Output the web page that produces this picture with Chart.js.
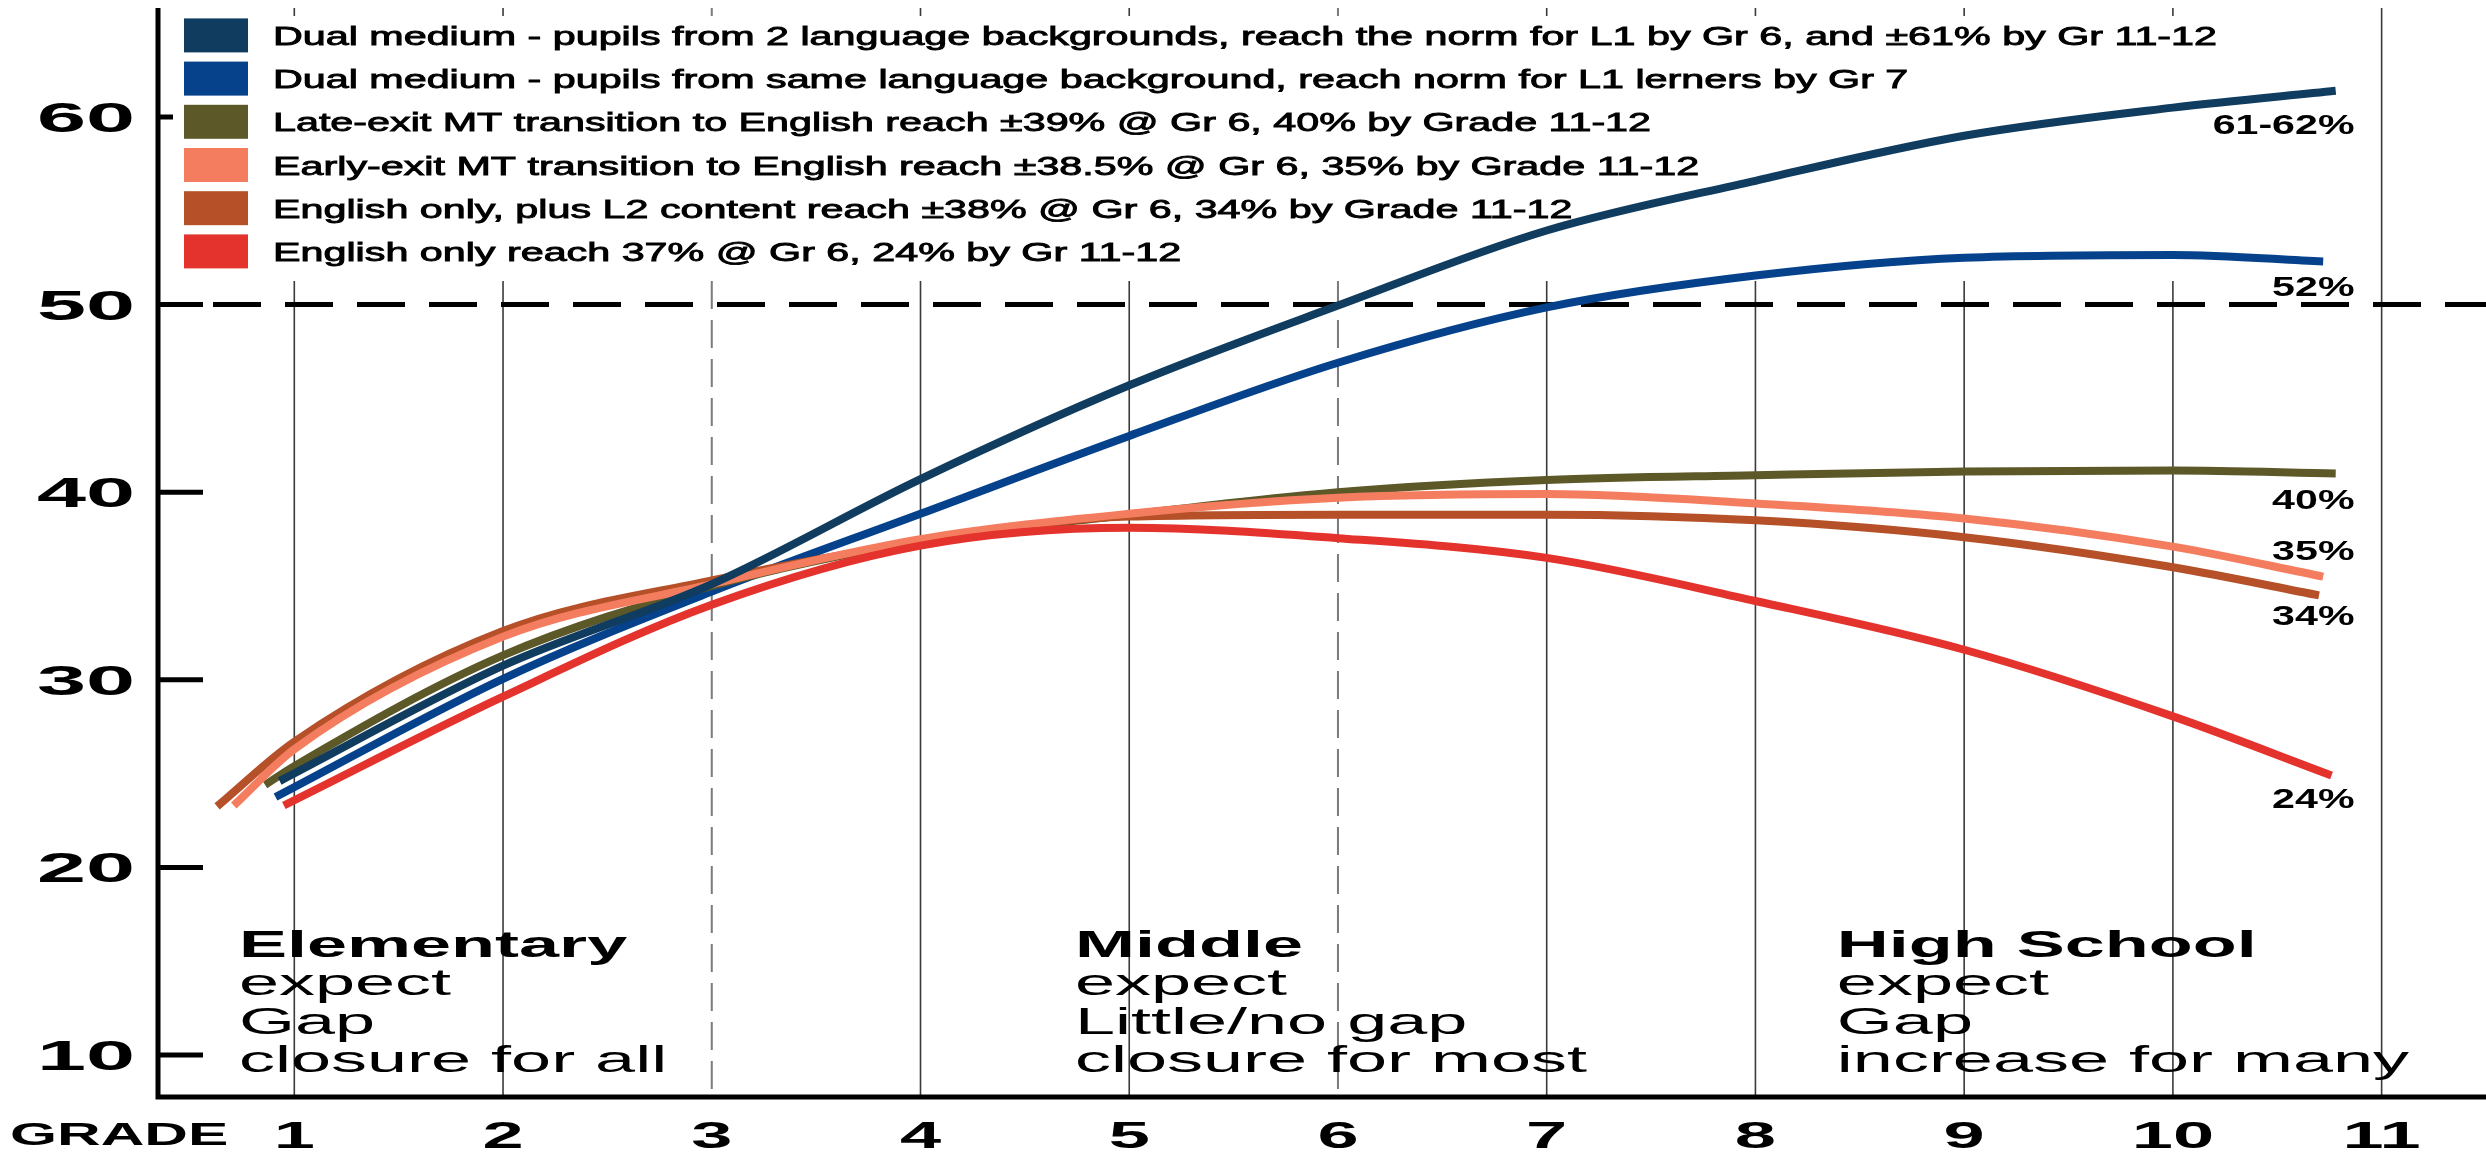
<!DOCTYPE html>
<html>
<head>
<meta charset="utf-8">
<script src="https://cdn.jsdelivr.net/npm/chart.js@4/dist/chart.umd.min.js"></script>
<style>
  body { margin: 0; background: #fff; }
  canvas { display: block; }
</style>
</head>
<body>
<canvas id="chart" width="2486" height="1153"></canvas>
<script>
// values
const grades = [1, 2, 3, 4, 5, 6, 7, 8, 9, 10, 11];
const yTicks = [10, 20, 30, 40, 50, 60];
const normLine = 50;

const seriesNames = [
  "Dual medium - pupils from 2 language backgrounds, reach the norm for L1 by Gr 6, and \u00b161% by Gr 11-12",
  "Dual medium - pupils from same language background, reach norm for L1 lerners by Gr 7",
  "Late-exit MT transition to English reach \u00b139% @ Gr 6, 40% by Grade 11-12",
  "Early-exit MT transition to English reach \u00b138.5% @ Gr 6, 35% by Grade 11-12",
  "English only, plus L2 content reach \u00b138% @ Gr 6, 34% by Grade 11-12",
  "English only reach 37% @ Gr 6, 24% by Gr 11-12"
];
const endLabels = ["61-62%", "52%", "40%", "35%", "34%", "24%"];

const dualTwoX = [0.93, 2, 3, 4, 5, 6, 7, 8, 9, 10, 10.78];
const dualTwoY = [24.6, 30.75, 35.1, 40.7, 45.7, 49.95, 53.95, 56.6, 59.0, 60.5, 61.4];
const dualSameX = [0.91, 2, 3, 4, 5, 6, 7, 8, 9, 10, 10.72];
const dualSameY = [23.75, 30.05, 34.7, 38.85, 43.0, 46.9, 49.85, 51.55, 52.5, 52.65, 52.3];
const lateExitX = [0.86, 1, 2, 3, 4, 5, 6, 7, 8, 9, 10, 10.78];
const lateExitY = [24.4, 25.4, 31.3, 35.0, 37.4, 38.8, 40.0, 40.65, 40.9, 41.1, 41.15, 41.0];
const earlyExitX = [0.71, 1, 2, 3, 4, 5, 6, 7, 8, 9, 10, 10.72];
const earlyExitY = [23.3, 26.3, 32.3, 35.1, 37.5, 38.85, 39.7, 39.9, 39.4, 38.6, 37.1, 35.5];
const engL2X = [0.63, 1, 2, 3, 4, 5, 6, 7, 8, 9, 10, 10.7];
const engL2Y = [23.25, 26.7, 32.6, 35.3, 37.35, 38.7, 38.8, 38.8, 38.5, 37.6, 36.0, 34.5];
const engOnlyX = [0.95, 2, 3, 4, 5, 6, 7, 8, 9, 10, 10.76];
const engOnlyY = [23.3, 29.1, 34.0, 37.15, 38.1, 37.55, 36.5, 34.2, 31.6, 28.05, 24.9];

const stageTitles = ["Elementary", "Middle", "High School"];
const stageLines = [
  ["expect", "Gap", "closure for all"],
  ["expect", "Little/no gap", "closure for most"],
  ["expect", "Gap", "increase for many"]
];

// styling
const colors = ["#0f3c5f", "#06428c", "#5c5828", "#f57d5f", "#b55028", "#e4322d"];
const drawOrder = [0, 5, 4, 2, 3, 1];
const labelDy = [33, 25, 26, -27, 20, 23];
const stageAt = [0.735, 4.74, 8.39];
const dashedGrades = [3, 6];
const FONT = '"Liberation Sans", Arial, sans-serif';

const seriesX = [dualTwoX, dualSameX, lateExitX, earlyExitX, engL2X, engOnlyX];
const seriesY = [dualTwoY, dualSameY, lateExitY, earlyExitY, engL2Y, engOnlyY];

function toPoints(xs, ys) {
  return xs.map((x, i) => ({ x: x, y: ys[i] }));
}

function stretchText(ctx, text, x, y, sx, align, heavy) {
  const w = ctx.measureText(text).width * sx;
  let x0 = x;
  if (align === "right") x0 = x - w;
  if (align === "center") x0 = x - w / 2;
  ctx.save();
  ctx.translate(x0, y);
  ctx.scale(sx, 1);
  ctx.textAlign = "left";
  ctx.fillText(text, 0, 0);
  if (heavy) {
    ctx.lineWidth = heavy;
    ctx.strokeStyle = ctx.fillStyle;
    ctx.strokeText(text, 0, 0);
  }
  ctx.restore();
}

const backdrop = {
  id: "backdrop",
  beforeDatasetsDraw(chart) {
    const ctx = chart.ctx;
    const area = chart.chartArea;
    const xs = chart.scales.x;
    const ys = chart.scales.y;
    ctx.save();

    // vertical grade lines
    grades.forEach(g => {
      const px = xs.getPixelForValue(g);
      ctx.beginPath();
      if (dashedGrades.includes(g)) {
        ctx.setLineDash([28, 11]);
        ctx.strokeStyle = "#7a7a7a";
        ctx.lineWidth = 2;
      } else {
        ctx.setLineDash([]);
        ctx.strokeStyle = "#3a3a3a";
        ctx.lineWidth = 1.6;
      }
      ctx.moveTo(px, area.top);
      ctx.lineTo(px, area.bottom);
      ctx.stroke();
    });
    ctx.setLineDash([]);

    // y ticks drawn inward
    ctx.strokeStyle = "#000";
    ctx.lineWidth = 5;
    yTicks.forEach(v => {
      const py = ys.getPixelForValue(v);
      ctx.beginPath();
      ctx.moveTo(area.left, py);
      ctx.lineTo(area.left + 45, py);
      ctx.stroke();
    });

    // norm line
    const ny = ys.getPixelForValue(normLine);
    ctx.setLineDash([48, 24]);
    ctx.lineDashOffset = 17;
    ctx.beginPath();
    ctx.moveTo(area.left, ny);
    ctx.lineTo(area.right, ny);
    ctx.stroke();
    ctx.setLineDash([]);

    // legend panel
    ctx.fillStyle = "#fff";
    ctx.fillRect(area.left + 15, 16, 2070, 265);

    // axes
    ctx.lineWidth = 5;
    ctx.beginPath();
    ctx.moveTo(area.left, area.top);
    ctx.lineTo(area.left, area.bottom);
    ctx.lineTo(area.right, area.bottom);
    ctx.stroke();
    ctx.restore();
  },
  afterDatasetsDraw(chart) {
    const ctx = chart.ctx;
    const area = chart.chartArea;
    const xs = chart.scales.x;
    const ys = chart.scales.y;
    ctx.save();
    ctx.fillStyle = "#000";
    ctx.textBaseline = "alphabetic";

    // legend
    ctx.font = "26px " + FONT;
    const legendSx = 1944 / ctx.measureText(seriesNames[0]).width;
    seriesNames.forEach((name, i) => {
      const cy = 35.4 + i * 43.2;
      ctx.fillStyle = colors[i];
      ctx.fillRect(184, cy - 17, 64, 34);
      ctx.fillStyle = "#000";
      stretchText(ctx, name, 273, cy + 9.5, legendSx, "left", 0.9);
    });

    // end labels
    ctx.font = "bold 28px " + FONT;
    endLabels.forEach((t, i) => {
      const ys0 = seriesY[i];
      const py = ys.getPixelForValue(ys0[ys0.length - 1]) + labelDy[i];
      stretchText(ctx, t, xs.getPixelForValue(10.87), py + 10, 1.47, "right");
    });

    // y tick labels
    ctx.font = "bold 42px " + FONT;
    yTicks.forEach(v => {
      stretchText(ctx, String(v), 135, ys.getPixelForValue(v) + 15, 2.1, "right");
    });

    // x tick labels
    ctx.font = "bold 37px " + FONT;
    grades.forEach(g => {
      stretchText(ctx, String(g), xs.getPixelForValue(g), 1148, 2.0, "center");
    });
    ctx.font = "bold 31px " + FONT;
    stretchText(ctx, "GRADE", 10, 1145, 1.95, "left");

    // school stage notes
    stageTitles.forEach((title, i) => {
      const px = xs.getPixelForValue(stageAt[i]);
      ctx.font = "bold 36px " + FONT;
      stretchText(ctx, title, px, area.bottom - 140, 2.0, "left");
      ctx.font = "36px " + FONT;
      stageLines[i].forEach((line, j) => {
        stretchText(ctx, line, px, area.bottom - 102 + j * 38.5, 2.0, "left");
      });
    });
    ctx.restore();
  }
};

const datasets = seriesNames.map((name, i) => ({
  label: name,
  data: toPoints(seriesX[i], seriesY[i]),
  borderColor: colors[i],
  backgroundColor: colors[i],
  borderWidth: 8,
  borderCapStyle: "butt",
  pointRadius: 0,
  cubicInterpolationMode: "monotone",
  order: drawOrder[i],
  fill: false
}));

new Chart(document.getElementById("chart").getContext("2d"), {
  type: "line",
  data: { datasets: datasets },
  options: {
    responsive: false,
    animation: false,
    devicePixelRatio: 1,
    events: [],
    layout: { padding: { left: 158, right: 0, top: 8, bottom: 56 } },
    plugins: { legend: { display: false }, tooltip: { enabled: false } },
    scales: {
      x: { type: "linear", min: 0.347, max: 11.5, display: false },
      y: { type: "linear", min: 7.76, max: 65.81, display: false }
    }
  },
  plugins: [backdrop]
});
</script>
</body>
</html>
